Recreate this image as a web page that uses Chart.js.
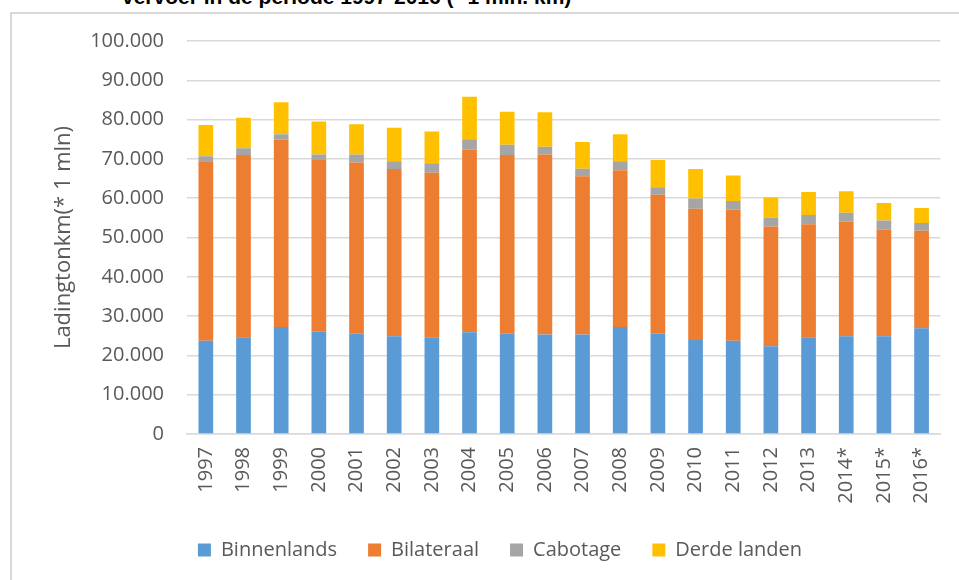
<!DOCTYPE html>
<html>
<head>
<meta charset="utf-8">
<script src="https://cdn.jsdelivr.net/npm/chart.js@4.4.1/dist/chart.umd.min.js"></script>
<style>
    body { margin: 0; overflow: hidden; background: #fff; }
    #frame { position: absolute; left: 10px; top: 12px; width: 1000px; height: 600px;
             border-left: 2px solid #d9d9d9; border-top: 2px solid #d9d9d9; }
    #title { position: absolute; left: 122px; top: -13px; white-space: nowrap;
             font: bold 21px "Liberation Sans", Arial, sans-serif; line-height: 20px; color: #000; }
    #wrap { position: absolute; left: 0; top: 0; width: 959px; height: 580px; }
</style>
</head>
<body>
<div id="frame"></div>
<div id="title">vervoer in de periode 1997-2016 (* 1 mln. km)</div>
<div id="wrap"><canvas id="chart"></canvas></div>
<script>
const years = ["1997", "1998", "1999", "2000", "2001", "2002", "2003", "2004", "2005", "2006",
    "2007", "2008", "2009", "2010", "2011", "2012", "2013", "2014*", "2015*", "2016*"];
const binnenlands = [23700, 24600, 27200, 26000, 25500, 24900, 24600, 25900, 25500, 25300,
    25300, 27200, 25500, 23900, 23700, 22300, 24600, 24900, 24900, 26900];
const bilateraal = [45700, 46400, 47700, 43700, 43600, 42500, 41900, 46500, 45500, 45800,
    40300, 39900, 35400, 33400, 33400, 30500, 28800, 29100, 27100, 24800];
const cabotage = [1300, 1700, 1400, 1400, 2000, 2000, 2400, 2600, 2600, 2000,
    1900, 2300, 1900, 2600, 2200, 2200, 2300, 2300, 2300, 2000];
const derdeLanden = [7900, 7800, 8100, 8400, 7700, 8500, 8100, 10800, 8400, 8800,
    6800, 6900, 6900, 7500, 6500, 5200, 5900, 5500, 4500, 3800];
const yTicks = [0, 10000, 20000, 30000, 40000, 50000, 60000, 70000, 80000, 90000, 100000];

const FONT = '"Open Sans", "Noto Sans", sans-serif';
const TXT = "#595959";

function fmt(v) {
    // dutch thousands separator
    return String(v).replace(/\B(?=(\d{3})+(?!\d))/g, ".");
}

function bar(label, data, color) {
    return { label, data, backgroundColor: color, borderWidth: 0,
        barPercentage: 0.39, categoryPercentage: 1 };
}

new Chart(document.getElementById("chart"), {
    type: "bar",
    data: {
        labels: years,
        datasets: [
            bar("Binnenlands", binnenlands, "#5B9BD5"),
            bar("Bilateraal", bilateraal, "#ED7D31"),
            bar("Cabotage", cabotage, "#A5A5A5"),
            bar("Derde landen", derdeLanden, "#FFC000")
        ]
    },
    options: {
        responsive: true,
        maintainAspectRatio: false,
        animation: false,
        layout: { padding: { left: 58, right: 17, top: 41, bottom: 10 } },
        scales: {
            x: {
                stacked: true,
                grid: { display: false, drawTicks: false },
                border: { color: "#d9d9d9", width: 1.5 },
                ticks: { color: TXT, font: { family: FONT, size: 20 }, padding: 13,
                    minRotation: 90, maxRotation: 90, autoSkip: false },
                afterFit: (s) => { s.height = 75; }
            },
            y: {
                stacked: true,
                min: 0,
                max: 100000,
                afterBuildTicks: (s) => { s.ticks = yTicks.map(v => ({ value: v })); },
                grid: { color: "#d9d9d9", lineWidth: 1.5, drawTicks: false },
                border: { display: false },
                ticks: { color: TXT, font: { family: FONT, size: 20 }, padding: 23,
                    callback: (v) => fmt(v) },
                title: { display: true, text: "Ladingtonkm(* 1 mln)", color: TXT,
                    font: { family: FONT, size: 22 }, padding: { top: -7, bottom: 0 } },
                afterFit: (s) => { s.width = 129; }
            }
        },
        plugins: {
            tooltip: { enabled: false },
            legend: {
                position: "bottom",
                labels: { color: TXT, font: { family: FONT, size: 20 },
                    boxWidth: 13, boxHeight: 13, padding: 31 }
            }
        }
    }
});
</script>
</body>
</html>
